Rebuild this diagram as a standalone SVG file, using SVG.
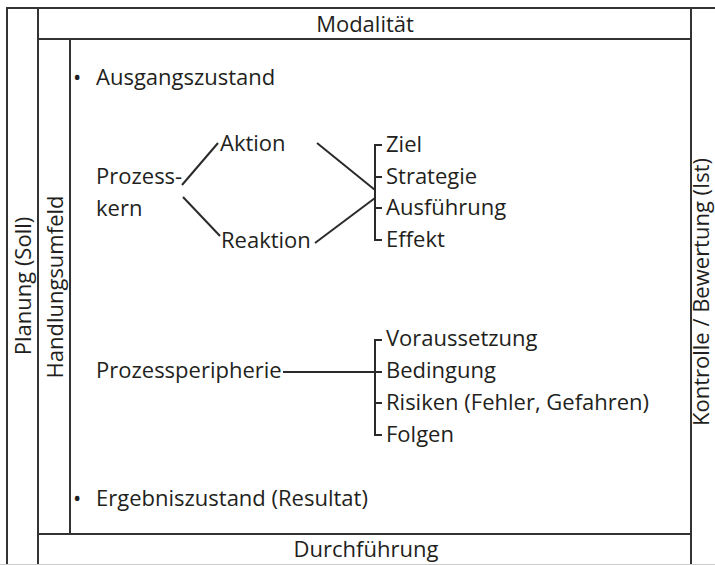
<svg xmlns="http://www.w3.org/2000/svg" width="715" height="565" viewBox="0 0 715 565">
  <style>
    .frame { fill: none; stroke: #333333; stroke-width: 2; }
    .link { fill: none; stroke: #2a2a2a; stroke-width: 2; stroke-linecap: butt; }
    text { font-family: "Open Sans", "Noto Sans", "Liberation Sans", sans-serif; font-size: 22px; fill: #231f20; }
    .mid { text-anchor: middle; }
  </style>
  <rect width="715" height="565" fill="#ffffff"/>

  <!-- frame bands -->
  <g id="frame">
    <path class="frame" d="M6,8 H715"/>
    <path class="frame" d="M7,8 V565"/>
    <path class="frame" d="M38,8 V565"/>
    <path class="frame" d="M691,8 V565"/>
    <path class="frame" d="M38,39 H691"/>
    <path class="frame" d="M70,39 V534"/>
    <path class="frame" d="M38,534 H691"/>
    <path d="M0,564.5 H715" stroke="#cccccc" stroke-width="1"/>
  </g>

  <g id="modalitaet"><text class="mid" x="365" y="32">Modalität</text></g>
  <g id="durchfuehrung"><text class="mid" x="366" y="557">Durchführung</text></g>
  <g id="planung"><text class="mid" transform="translate(31,286) rotate(-90)">Planung (Soll)</text></g>
  <g id="handlungsumfeld"><text class="mid" transform="translate(63,287) rotate(-90)">Handlungsumfeld</text></g>
  <g id="kontrolle"><text class="mid" transform="translate(709,292) rotate(-90)">Kontrolle / Bewertung (Ist)</text></g>

  <g id="ausgangszustand">
    <text x="73" y="85">•</text>
    <text x="96" y="85">Ausgangszustand</text>
  </g>
  <g id="prozesskern">
    <text x="96" y="184">Prozess-</text>
    <text x="96" y="216">kern</text>
  </g>
  <g id="aktion"><text x="220" y="151">Aktion</text></g>
  <g id="reaktion"><text x="221" y="248">Reaktion</text></g>
  <g id="kern-merkmale">
    <text x="386" y="152">Ziel</text>
    <text x="386" y="184">Strategie</text>
    <text x="386" y="215">Ausführung</text>
    <text x="386" y="247">Effekt</text>
  </g>
  <g id="prozessperipherie"><text x="96" y="378">Prozessperipherie</text></g>
  <g id="peripherie-merkmale">
    <text x="386" y="346">Voraussetzung</text>
    <text x="386" y="378">Bedingung</text>
    <text x="386" y="410">Risiken (Fehler, Gefahren)</text>
    <text x="386" y="442">Folgen</text>
  </g>
  <g id="ergebniszustand">
    <text x="73" y="506">•</text>
    <text x="96" y="506">Ergebniszustand (Resultat)</text>
  </g>

  <!-- connectors -->
  <g id="connectors">
    <path class="link" d="M182,185 L218,143"/>
    <path class="link" d="M183,197 L220,236"/>
    <path class="link" d="M317,143 L375,190"/>
    <path class="link" d="M315,243 L375,198"/>
    <path class="link" d="M382,145 H375 V240 H382 M375,177 H382 M375,208 H382"/>
    <path class="link" d="M382,340 H375 V435 H382 M375,403 H382 M283,372 H382"/>
  </g>
</svg>
